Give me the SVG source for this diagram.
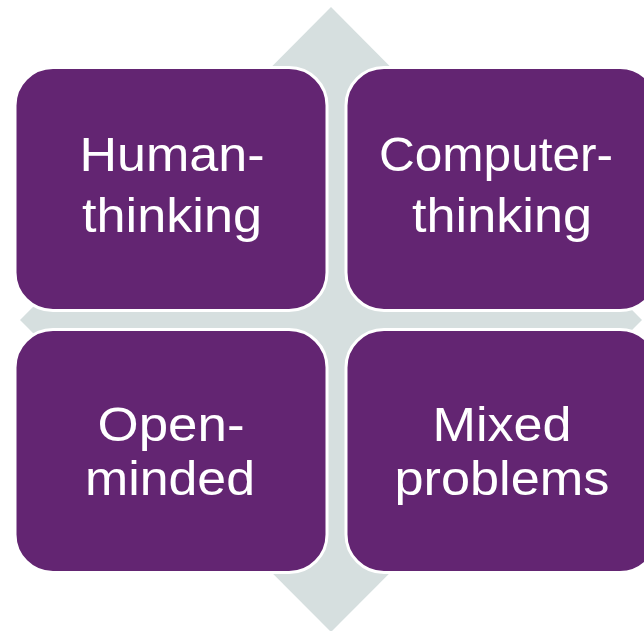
<svg xmlns="http://www.w3.org/2000/svg" width="644" height="631" viewBox="0 0 644 631">
<style>
.box{fill:#632572;stroke:#ffffff;stroke-width:3}
.lbl{fill:#ffffff;font-family:"Liberation Sans",Arial,sans-serif;font-size:48px;text-anchor:middle}
</style>
<rect width="644" height="631" fill="#ffffff"/>
<polygon id="diamond" points="331,7 642,320 331,632 20,320" fill="#d6dfdf"/>
<g id="human">
<rect class="box" x="15" y="67.5" width="312" height="243" rx="38"/>
<text class="lbl" x="172" y="171" textLength="185" lengthAdjust="spacingAndGlyphs">Human-</text>
<text class="lbl" x="172" y="232" textLength="180" lengthAdjust="spacingAndGlyphs">thinking</text>
</g>
<g id="computer">
<rect class="box" x="346" y="67.5" width="312" height="243" rx="38"/>
<text class="lbl" x="496" y="171" textLength="234" lengthAdjust="spacingAndGlyphs">Computer-</text>
<text class="lbl" x="502" y="232" textLength="180" lengthAdjust="spacingAndGlyphs">thinking</text>
</g>
<g id="open">
<rect class="box" x="15" y="329.5" width="312" height="243" rx="38"/>
<text class="lbl" x="171" y="441" textLength="147" lengthAdjust="spacingAndGlyphs">Open-</text>
<text class="lbl" x="170" y="495" textLength="170" lengthAdjust="spacingAndGlyphs">minded</text>
</g>
<g id="mixed">
<rect class="box" x="346" y="329.5" width="312" height="243" rx="38"/>
<text class="lbl" x="502" y="441" textLength="139" lengthAdjust="spacingAndGlyphs">Mixed</text>
<text class="lbl" x="502" y="495" textLength="215" lengthAdjust="spacingAndGlyphs">problems</text>
</g>
<g id="connectors"></g>
</svg>
